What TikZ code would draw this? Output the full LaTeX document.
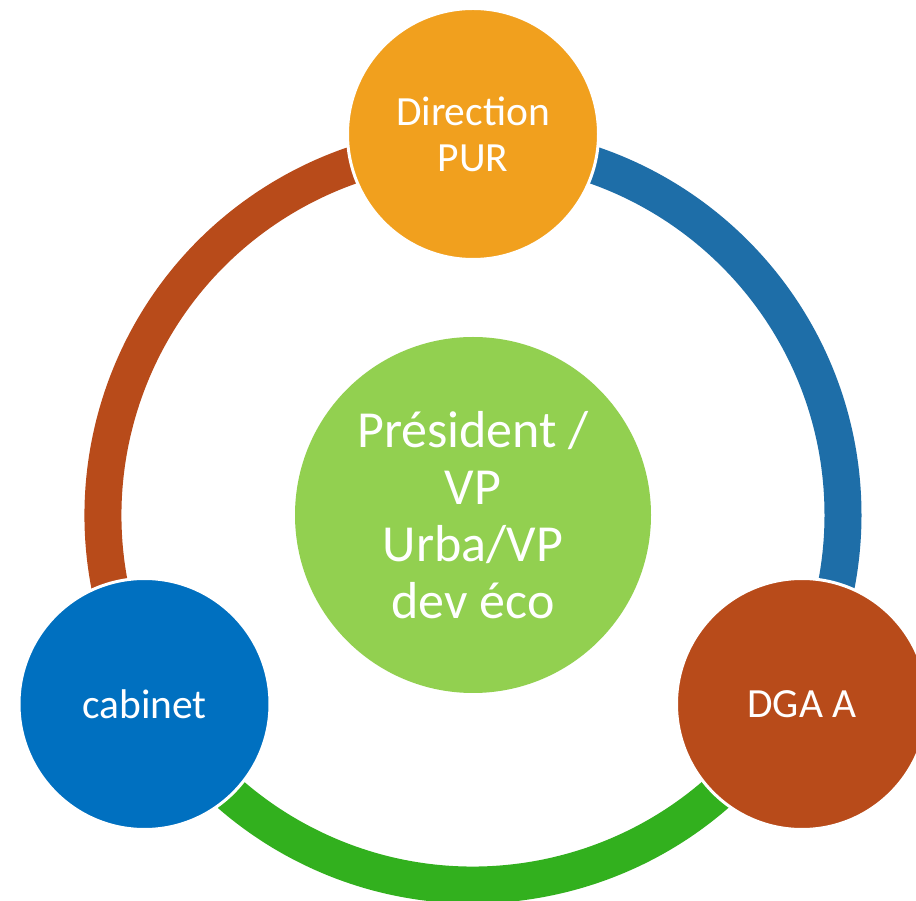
\documentclass[tikz,border=0pt]{standalone}
\usepackage{fontspec}
\setmainfont{Carlito}
\begin{document}
\begin{tikzpicture}[x=1pt,y=1pt]
\definecolor{cOrange}{RGB}{241,160,30}
\definecolor{cBlueArc}{RGB}{30,110,168}
\definecolor{cBrown}{RGB}{184,75,26}
\definecolor{cGreenArc}{RGB}{50,176,30}
\definecolor{cGreenC}{RGB}{146,208,80}
\definecolor{cCab}{RGB}{0,112,192}
\tikzset{
  sat/.style={circle, minimum size=251pt, inner sep=0pt, draw=white, line width=3pt,
    text=white, font=\fontsize{41.5}{46}\selectfont, align=center},
  ringarc/.style={line width=37pt},
  centre/.style={circle, minimum size=356pt, inner sep=0pt, fill=cGreenC, text=white,
    align=center, font=\fontsize{52}{57}\selectfont}
}
\useasboundingbox (0,0) rectangle (916,900);
\clip (0,0) rectangle (916,900);
\fill[white] (0,0) rectangle (916,900);
\coordinate (ctr) at (473,385);
% ring arcs
\draw[ringarc, cBlueArc] ([shift={(90:370)}]ctr) arc[start angle=90, end angle=-30, radius=370];
\draw[ringarc, cGreenArc] ([shift={(-30:370)}]ctr) arc[start angle=-30, end angle=-150, radius=370];
\draw[ringarc, cBrown] ([shift={(210:370)}]ctr) arc[start angle=210, end angle=90, radius=370];
% nodes
\node[centre] (pres) at (ctr) {Président /\\VP\\Urba/VP\\dev éco};
\node[sat, fill=cOrange] (dir) at (473,766) {Direction\\PUR};
\node[sat, fill=cCab] (cab) at (144.5,196) {cabinet};
\node[sat, fill=cBrown] (dga) at (802,196) {DGA A};
\end{tikzpicture}
\end{document}
